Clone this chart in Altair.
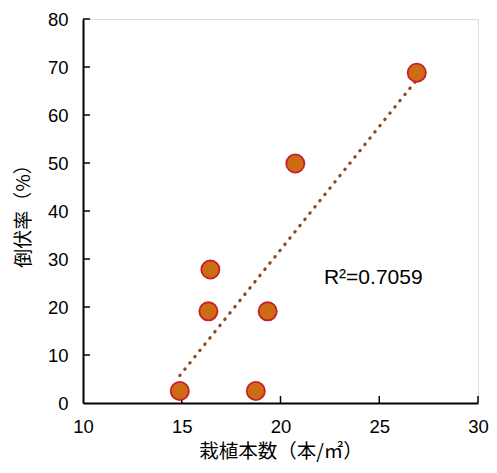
import altair as alt
import pandas as pd

density = [14.9, 18.75, 16.35, 16.45, 19.35, 20.75, 26.9]
lodging = [2.5, 2.5, 19.1, 27.8, 19.1, 49.9, 68.8]
x_ticks = [10, 15, 20, 25, 30]
y_ticks = [0, 10, 20, 30, 40, 50, 60, 70, 80]
r2_label = ["R²=0.7059"]
r2_pos_x = [22.2]
r2_pos_y = [26.0]

df = pd.DataFrame({"x": density, "y": lodging})
W, H = 395, 384
num_font = "Liberation Sans"
jp_font = "Noto Sans CJK JP"

xs = alt.Scale(domain=[10, 30], nice=False, zero=False)
ys = alt.Scale(domain=[0, 80], nice=False)

x_axis = alt.Axis(values=x_ticks, ticks=False, tickSize=0, grid=False, domainColor="black",
                  domainWidth=2, labelFont=num_font, labelFontSize=18.5, labelColor="black",
                  labelPadding=14, labelFlush=False, labelOverlap=False,
                  title="栽植本数（本/㎡）", titleFont=jp_font, titleFontSize=19.5,
                  titleFontWeight="normal", titleColor="black", titlePadding=7)
y_axis = alt.Axis(values=y_ticks, ticks=False, tickSize=0, grid=False, domainColor="black",
                  domainWidth=2, labelFont=num_font, labelFontSize=18.5, labelColor="black",
                  labelPadding=15, labelFlush=False, labelOverlap=False,
                  title="倒伏率（%）", titleFont=jp_font, titleFontSize=19,
                  titleFontWeight="normal", titleColor="black", titlePadding=14)

base = alt.Chart(df)

trend = base.transform_regression("x", "y", method="linear").mark_line(
    color="#8E4A1E", strokeWidth=3.2, strokeDash=[0.5, 7.5], strokeCap="round"
).encode(x=alt.X("x:Q", scale=xs, axis=x_axis), y=alt.Y("y:Q", scale=ys, axis=y_axis))

pts = base.mark_point(filled=True, size=330, fill="#CC6C14", stroke="#C8202A",
                      strokeWidth=1.8, opacity=1).encode(
    x=alt.X("x:Q", scale=xs), y=alt.Y("y:Q", scale=ys))

xt = alt.Chart(pd.DataFrame({"t": x_ticks[1:]})).mark_rule(color="black", strokeWidth=1.5).encode(
    x=alt.X("t:Q", scale=xs), y=alt.value(H), y2=alt.value(H - 7))
yt = alt.Chart(pd.DataFrame({"t": y_ticks[1:]})).mark_rule(color="black", strokeWidth=1.5).encode(
    y=alt.Y("t:Q", scale=ys), x=alt.value(0), x2=alt.value(7))

txt = alt.Chart(pd.DataFrame({"label": r2_label, "x": r2_pos_x, "y": r2_pos_y})).mark_text(
    align="left", baseline="middle", font=num_font, fontSize=21, color="black").encode(
    x=alt.X("x:Q", scale=xs), y=alt.Y("y:Q", scale=ys), text="label:N")

chart = alt.layer(trend, xt, yt, pts, txt).properties(
    width=W, height=H, autosize=alt.AutoSizeParams(type="none"),
    padding={"left": 75, "top": 11, "right": 11, "bottom": 62}
).configure_view(stroke=None).configure(background="white")

chart.save("out.html", embed_options={"renderer": "svg", "actions": False})
